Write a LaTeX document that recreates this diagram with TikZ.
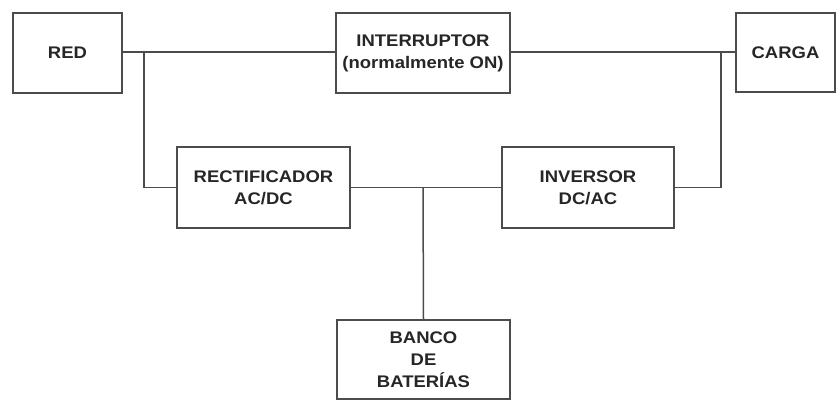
\documentclass[tikz,border=0pt]{standalone}
\usepackage{fontspec}
\setmainfont{Liberation Sans}[FakeStretch=1.1]
\begin{document}
\begin{tikzpicture}[x=1pt,y=-1pt,
  blk/.style={draw=black!70,line width=1.5pt,fill=white,inner sep=0pt,align=center,
    font=\bfseries\fontsize{16.8}{22}\selectfont,text=black!85},
  wire/.style={draw=black!70,line width=1.5pt}]
\useasboundingbox (0,0) rectangle (836,401);
\node[blk,minimum width=109pt,minimum height=80pt] (red) at (67.5,53) {RED};
\node[blk,minimum width=174pt,minimum height=80pt] (int) at (423,53) {INTERRUPTOR\\(normalmente ON)};
\node[blk,minimum width=99pt,minimum height=79pt] (carga) at (785.5,52.5) {CARGA};
\node[blk,minimum width=173pt,minimum height=81pt] (rect) at (263.5,187.5) {RECTIFICADOR\\AC/DC};
\node[blk,minimum width=172pt,minimum height=81pt] (inv) at (588,187.5) {INVERSOR\\DC/AC};
\node[blk,minimum width=173pt,minimum height=79pt] (bat) at (423.5,359.5) {BANCO\\DE\\BATERÍAS};
\coordinate (j1) at (144,52);
\coordinate (j2) at (721,52);
\coordinate (j3) at (423,187.5);
\draw[wire] (red.east |- 0,52) -- (int.west |- 0,52);
\draw[wire] (int.east |- 0,52) -- (carga.west |- 0,52);
\draw[wire] (j1) |- (rect.west);
\draw[wire] (j2) |- (inv.east);
\draw[wire] (rect.east) -- (inv.west);
\draw[wire] (j3) -- (bat.north);
\end{tikzpicture}
\end{document}
